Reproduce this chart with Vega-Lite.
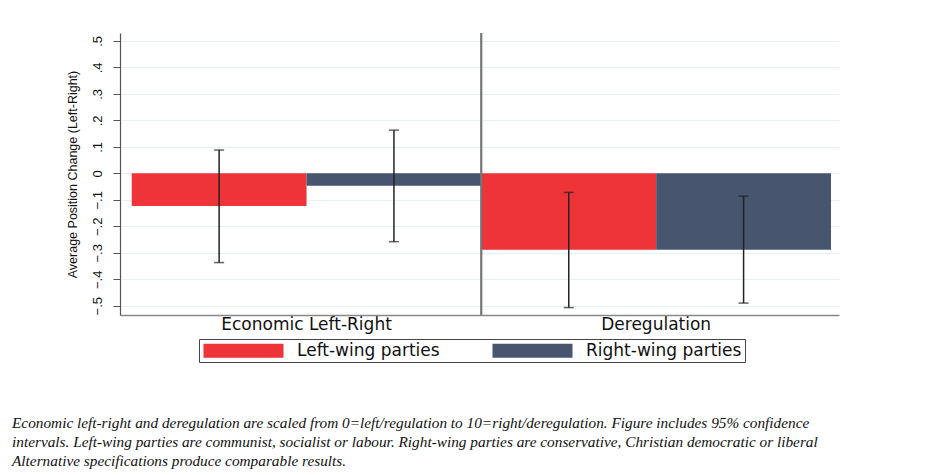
{
  "$schema": "https://vega.github.io/schema/vega-lite/v6.json",
  "width": 719,
  "height": 282,
  "autosize": {"type": "none"},
  "padding": {"left": 120, "top": 33, "right": 89, "bottom": 160},
  "background": "white",
  "config": {
    "view": {"stroke": null},
    "axis": {"labelColor": "#111", "titleColor": "#111", "labelOverlap": false},
    "axisY": {"labelOverlap": false, "labelSeparation": 0}
  },
  "title": {
    "text": [
      "Economic left-right and deregulation are scaled from 0=left/regulation to 10=right/deregulation. Figure includes 95% confidence",
      "intervals. Left-wing parties are communist, socialist or labour. Right-wing parties are conservative, Christian democratic or liberal",
      "Alternative specifications produce comparable results."
    ],
    "orient": "bottom",
    "anchor": "start",
    "frame": "group",
    "font": "Liberation Serif",
    "fontStyle": "italic",
    "fontWeight": "normal",
    "fontSize": 15.3,
    "lineHeight": 19,
    "color": "#111",
    "dx": -108,
    "offset": 53
  },
  "data": {
    "values": [
      {"measure": "Economic Left-Right", "party": "Left-wing parties", "mean": -0.123, "lo": -0.337, "hi": 0.088},
      {"measure": "Economic Left-Right", "party": "Right-wing parties", "mean": -0.047, "lo": -0.258, "hi": 0.163},
      {"measure": "Deregulation", "party": "Left-wing parties", "mean": -0.289, "lo": -0.507, "hi": -0.072},
      {"measure": "Deregulation", "party": "Right-wing parties", "mean": -0.289, "lo": -0.49, "hi": -0.086}
    ]
  },
  "encoding": {
    "x": {
      "field": "measure",
      "type": "nominal",
      "sort": ["Economic Left-Right", "Deregulation"],
      "scale": {"paddingInner": 0, "paddingOuter": 0.0282, "align": 0.594},
      "axis": {
        "title": null,
        "labelAngle": 0,
        "ticks": false,
        "labelPadding": 1,
        "labelFont": "DejaVu Sans",
        "labelFontSize": 17,
        "domainColor": "#888",
        "domainWidth": 1.5
      }
    },
    "y": {
      "type": "quantitative",
      "scale": {"domain": [-0.535, 0.53], "nice": false, "zero": false},
      "axis": {
        "title": "Average Position Change (Left-Right)",
        "titleFont": "Liberation Sans",
        "titleFontSize": 12.5,
        "titleFontWeight": "normal",
        "titlePadding": 12,
        "values": [-0.5, -0.4, -0.3, -0.2, -0.1, 0, 0.1, 0.2, 0.3, 0.4, 0.5],
        "labelExpr": "datum.value == 0 ? '0' : replace(format(datum.value, '.1f'), '0.', '.')",
        "labelOverlap": false,
        "labelAngle": 270,
        "labelAlign": "center",
        "labelBaseline": "bottom",
        "labelFont": "Liberation Sans",
        "labelFontSize": 13,
        "labelPadding": 9,
        "tickSize": 7,
        "tickColor": "#555",
        "domainColor": "#555",
        "domainWidth": 1.2,
        "gridColor": "#e6f0f2",
        "gridWidth": 1
      }
    }
  },
  "layer": [
    {
      "mark": {"type": "bar"},
      "encoding": {
        "xOffset": {
          "field": "party",
          "type": "nominal",
          "sort": ["Left-wing parties", "Right-wing parties"],
          "scale": {"paddingInner": 0, "paddingOuter": 0}
        },
        "y": {"field": "mean", "type": "quantitative"},
        "y2": {"datum": 0},
        "color": {
          "field": "party",
          "type": "nominal",
          "scale": {"domain": ["Left-wing parties", "Right-wing parties"], "range": ["#ee3438", "#48556f"]},
          "legend": {
            "title": null,
            "orient": "none",
            "legendX": 79,
            "legendY": 306,
            "direction": "horizontal",
            "columns": 2,
            "columnPadding": 51,
            "padding": 3,
            "strokeColor": "#444",
            "fillColor": "white",
            "symbolType": "M-1,-1L10.43,-1L10.43,1L-1,1Z",
            "symbolSize": 196,
            "symbolStrokeWidth": 0,
            "symbolOpacity": 1,
            "labelOffset": 78,
            "labelFont": "DejaVu Sans",
            "labelFontSize": 17,
            "labelColor": "#111",
            "labelLimit": 300
          }
        }
      }
    },
    {
      "mark": {"type": "rule", "color": "#777", "strokeWidth": 1.5},
      "encoding": {
        "x": {"datum": "Deregulation", "bandPosition": 0}
      }
    },
    {
      "mark": {"type": "rule", "color": "#222", "strokeWidth": 1.5},
      "encoding": {
        "xOffset": {"field": "party", "type": "nominal", "sort": ["Left-wing parties", "Right-wing parties"]},
        "y": {"field": "lo", "type": "quantitative"},
        "y2": {"field": "hi"}
      }
    },
    {
      "mark": {"type": "tick", "color": "#222", "size": 10, "thickness": 1.5},
      "encoding": {
        "xOffset": {"field": "party", "type": "nominal", "sort": ["Left-wing parties", "Right-wing parties"]},
        "y": {"field": "lo", "type": "quantitative"}
      }
    },
    {
      "mark": {"type": "tick", "color": "#222", "size": 10, "thickness": 1.5},
      "encoding": {
        "xOffset": {"field": "party", "type": "nominal", "sort": ["Left-wing parties", "Right-wing parties"]},
        "y": {"field": "hi", "type": "quantitative"}
      }
    }
  ]
}
